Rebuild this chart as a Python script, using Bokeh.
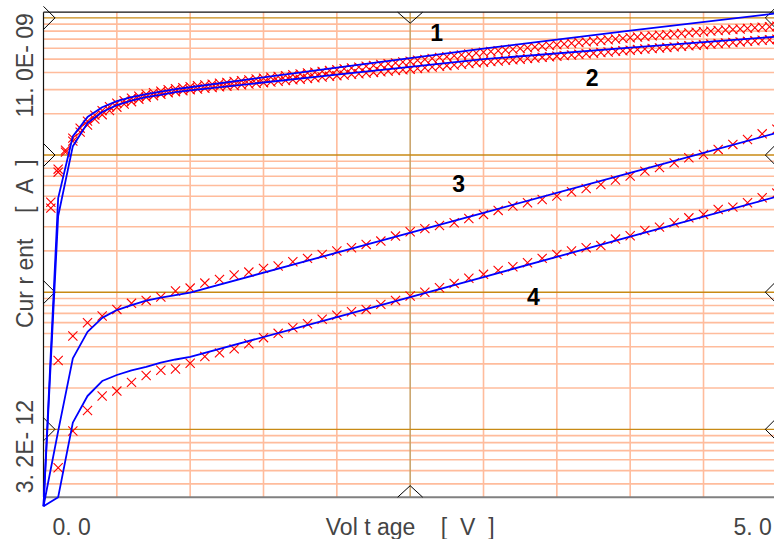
import numpy as np
from bokeh.plotting import figure
from bokeh.models import Range1d, Label, ColumnDataSource
from bokeh.core.properties import value
from bokeh.embed import file_html
from bokeh.resources import INLINE

# ---------------- data ----------------
# model (blue line) vertices
V_FIT = [0.0, 0.1, 0.2, 0.3, 0.4, 0.5, 0.6, 0.7, 0.8, 0.9, 1.0, 2.0, 3.0, 4.0, 5.0]
FIT_1_nA = [0.00275, 0.485, 1.37, 1.89, 2.23, 2.47, 2.64, 2.78, 2.90, 3.02, 3.12, 4.34, 5.96, 8.07, 10.8]
FIT_2_nA = [0.00275, 0.359, 1.16, 1.71, 2.06, 2.31, 2.49, 2.64, 2.75, 2.87, 2.96, 3.86, 5.00, 6.07, 7.30]
FIT_3_pA = [2.75, 9.7, 32.9, 51.4, 65.0, 74.1, 80.5, 86.9, 91.4, 95.3, 99.1, 194, 379, 742, 1450]
FIT_4_pA = [2.75, 3.2, 11.2, 17.5, 22.5, 24.9, 26.9, 28.5, 30.7, 32.3, 33.7, 65.9, 129, 254, 498]

# measured points (red crosses), curves 1 and 2 (0.05 V steps)
V_MEAS_12 = [0.05, 0.10, 0.15, 0.20, 0.25, 0.30, 0.35, 0.40, 0.45, 0.50,
             0.55, 0.60, 0.65, 0.70, 0.75, 0.80, 0.85, 0.90, 0.95, 1.00,
             1.05, 1.10, 1.15, 1.20, 1.25, 1.30, 1.35, 1.40, 1.45, 1.50,
             1.55, 1.60, 1.65, 1.70, 1.75, 1.80, 1.85, 1.90, 1.95, 2.00,
             2.05, 2.10, 2.15, 2.20, 2.25, 2.30, 2.35, 2.40, 2.45, 2.50,
             2.55, 2.60, 2.65, 2.70, 2.75, 2.80, 2.85, 2.90, 2.95, 3.00,
             3.05, 3.10, 3.15, 3.20, 3.25, 3.30, 3.35, 3.40, 3.45, 3.50,
             3.55, 3.60, 3.65, 3.70, 3.75, 3.80, 3.85, 3.90, 3.95, 4.00,
             4.05, 4.10, 4.15, 4.20, 4.25, 4.30, 4.35, 4.40, 4.45, 4.50,
             4.55, 4.60, 4.65, 4.70, 4.75, 4.80, 4.85, 4.90, 4.95, 5.00]
MEAS_1_nA = [0.453, 0.789, 1.086, 1.328, 1.570, 1.767, 1.954, 2.107, 2.253, 2.389,
             2.492, 2.598, 2.687, 2.779, 2.849, 2.922, 2.997, 3.047, 3.099, 3.151,
             3.196, 3.242, 3.289, 3.336, 3.384, 3.433, 3.482, 3.532, 3.583, 3.634,
             3.686, 3.739, 3.793, 3.847, 3.903, 3.959, 4.016, 4.073, 4.132, 4.191,
             4.251, 4.312, 4.374, 4.437, 4.501, 4.566, 4.632, 4.698, 4.766, 4.834,
             4.908, 4.982, 5.058, 5.135, 5.213, 5.293, 5.373, 5.455, 5.538, 5.622,
             5.693, 5.765, 5.838, 5.912, 5.987, 6.063, 6.140, 6.218, 6.297, 6.377,
             6.452, 6.528, 6.606, 6.684, 6.763, 6.843, 6.924, 7.006, 7.089, 7.173,
             7.246, 7.319, 7.393, 7.468, 7.544, 7.620, 7.697, 7.775, 7.854, 7.933,
             8.007, 8.081, 8.156, 8.232, 8.308, 8.385, 8.463, 8.541, 8.620, 8.700]
MEAS_2_nA = [0.410, 0.750, 1.050, 1.263, 1.469, 1.652, 1.827, 1.970, 2.107, 2.234,
             2.350, 2.450, 2.555, 2.642, 2.710, 2.779, 2.849, 2.898, 2.947, 2.997,
             3.032, 3.068, 3.104, 3.141, 3.178, 3.216, 3.254, 3.292, 3.331, 3.371,
             3.411, 3.451, 3.492, 3.533, 3.575, 3.617, 3.660, 3.703, 3.747, 3.791,
             3.833, 3.875, 3.917, 3.960, 4.004, 4.048, 4.092, 4.137, 4.182, 4.228,
             4.278, 4.329, 4.380, 4.431, 4.484, 4.537, 4.590, 4.645, 4.700, 4.755,
             4.803, 4.852, 4.901, 4.950, 5.000, 5.051, 5.102, 5.154, 5.206, 5.259,
             5.312, 5.366, 5.420, 5.475, 5.530, 5.586, 5.643, 5.700, 5.758, 5.816,
             5.870, 5.924, 5.979, 6.035, 6.091, 6.147, 6.204, 6.262, 6.320, 6.379,
             6.438, 6.498, 6.558, 6.619, 6.680, 6.742, 6.805, 6.868, 6.932, 6.996]

# measured points, curves 3 and 4 (0.1 V steps)
V_MEAS_34 = [0.1, 0.2, 0.3, 0.4, 0.5, 0.6, 0.7, 0.8, 0.9, 1.0,
             1.1, 1.2, 1.3, 1.4, 1.5, 1.6, 1.7, 1.8, 1.9, 2.0,
             2.1, 2.2, 2.3, 2.4, 2.5, 2.6, 2.7, 2.8, 2.9, 3.0,
             3.1, 3.2, 3.3, 3.4, 3.5, 3.6, 3.7, 3.8, 3.9, 4.0,
             4.1, 4.2, 4.3, 4.4, 4.5, 4.6, 4.7, 4.8, 4.9, 5.0]
MEAS_3_pA = [31.8, 47.9, 59.8, 67.0, 74.9, 82.9, 87.1, 92.1, 101.9, 107.1,
             116.5, 124.0, 133.3, 140.1, 149.1, 155.0, 166.6, 176.4, 188.6, 199.4,
             210.7, 223.0, 235.7, 256.4, 275.5, 290.7, 306.7, 320.4, 344.9, 369.0,
             394.7, 424.2, 448.3, 474.6, 501.6, 539.2, 570.8, 610.4, 658.4, 701.7,
             763.1, 811.8, 876.7, 954.1, 1010, 1099, 1195, 1299, 1427, 1545]
MEAS_4_pA = [5.25, 9.72, 13.7, 17.5, 19.0, 22.0, 24.7, 27.0, 27.5, 30.3,
             34.0, 36.1, 38.6, 42.1, 46.6, 50.1, 55.0, 58.9, 63.4, 67.8,
             71.9, 74.9, 81.5, 87.1, 93.8, 99.8, 107.6, 115.9, 126.2, 134.9,
             144.2, 153.1, 163.7, 176.4, 188.6, 199.4, 210.7, 218.6, 243.8, 257.8,
             282.0, 298.1, 320.4, 348.3, 369.0, 401.3, 417.0, 448.3, 487.7, 527.8]

# curve number labels
CURVE_NAMES = ["1", "2", "3", "4"]
CURVE_NAME_V = [2.68, 3.74, 2.83, 3.34]
CURVE_NAME_I = [7.78e-9, 3.66e-9, 6.24e-10, 9.37e-11]

# axes
X_MIN, X_MAX = 0.0, 5.0
Y_MIN, Y_MAX = 3.2e-12, 11.0e-9
X_TICK_VALUES = [0.0, 5.0]
X_TICK_LABELS = ["0. 0", "5. 0"]
Y_TICK_VALUES = [3.2e-12, 11.0e-9]
Y_TICK_LABELS = ["3. 2E- 12", "11. 0E- 09"]
NB = "\u00a0"
X_TITLE = "Vol t age" + NB * 4 + "[" + NB * 2 + "V" + NB * 2 + "]"
Y_TITLE = "Cur r ent" + NB * 4 + "[" + NB * 2 + "A" + NB * 2 + "]"
X_MAJOR_GRID = [2.5]
X_MINOR_GRID = [0.5, 1.0, 1.5, 2.0, 3.0, 3.5, 4.0, 4.5]
Y_DECADES = [1e-11, 1e-10, 1e-9, 1e-8]

nA = 1e-9
pA = 1e-12

# ---------------- layout (pixels) ----------------
W, H = 774, 539
FRAME_L, FRAME_T, FRAME_B = 43.0, 11.7, 496.7
PX_PER_V = 146.67
PX_PER_DEC = (FRAME_B - FRAME_T) / (np.log10(Y_MAX) - np.log10(Y_MIN))

x_start = X_MIN - FRAME_L / PX_PER_V
x_end = X_MIN + (W - FRAME_L) / PX_PER_V
y_end = 10 ** (np.log10(Y_MAX) + FRAME_T / PX_PER_DEC)
y_start = 10 ** (np.log10(Y_MIN) - (H - FRAME_B) / PX_PER_DEC)


def dx(px):
    return px / PX_PER_V


def ysh(y, px):
    """shift a log-axis value by px pixels (positive = up)"""
    return y * 10 ** (px / PX_PER_DEC)


FONT = "Liberation Sans"

p = figure(width=W, height=H,
           x_range=Range1d(x_start, x_end), y_range=Range1d(y_start, y_end),
           y_axis_type="log", x_axis_location=None, y_axis_location=None,
           toolbar_location=None, output_backend="svg",
           min_border=0, min_border_left=0, min_border_right=0, min_border_top=0, min_border_bottom=0,
           background_fill_color="white", border_fill_color="white",
           outline_line_color=None)
p.grid.visible = False

# ---------------- grid (drawn from tick arrays) ----------------
y_minor = [k * d for d in [1e-12] + Y_DECADES for k in range(2, 10)]
y_minor = [v for v in y_minor if Y_MIN < v < Y_MAX]
MINOR_C = "#FFBC9C"
p.segment(x0=X_MINOR_GRID, y0=[Y_MIN] * len(X_MINOR_GRID), x1=X_MINOR_GRID, y1=[Y_MAX] * len(X_MINOR_GRID),
          line_color=MINOR_C, line_width=1.6)
p.segment(x0=[X_MIN] * len(y_minor), y0=y_minor, x1=[X_MAX] * len(y_minor), y1=y_minor,
          line_color=MINOR_C, line_width=1.6)
p.segment(x0=X_MAJOR_GRID, y0=[Y_MIN], x1=X_MAJOR_GRID, y1=[Y_MAX], line_color="#C8A064", line_width=1.5)
p.segment(x0=[X_MIN] * len(Y_DECADES), y0=Y_DECADES, x1=[X_MAX] * len(Y_DECADES), y1=Y_DECADES,
          line_color="#C88A14", line_width=1.4)

# frame
p.segment(x0=[X_MIN, X_MIN], y0=[Y_MIN, Y_MAX], x1=[X_MIN, X_MAX], y1=[Y_MAX, Y_MAX],
          line_color="#111111", line_width=1.2)
p.segment(x0=[X_MIN], y0=[Y_MIN], x1=[X_MAX], y1=[Y_MIN], line_color="#808080", line_width=2)

# chevron tick marks on the frame edges
ch_xs, ch_ys = [], []
for yd in Y_DECADES:
    ch_xs.append([X_MIN, X_MIN + dx(11.5), X_MIN])
    ch_ys.append([ysh(yd, 11.5), yd, ysh(yd, -11.5)])
    ch_xs.append([X_MAX, X_MAX - dx(11.5), X_MAX])
    ch_ys.append([ysh(yd, 11.5), yd, ysh(yd, -11.5)])
for xm in X_MAJOR_GRID:
    ch_xs.append([xm - dx(12.5), xm, xm + dx(12.5)])
    ch_ys.append([Y_MAX, ysh(Y_MAX, -11), Y_MAX])
    ch_xs.append([xm - dx(12.5), xm, xm + dx(12.5)])
    ch_ys.append([Y_MIN, ysh(Y_MIN, 11.5), Y_MIN])
p.multi_line(ch_xs, ch_ys, line_color="black", line_width=1)

# measured points
p.scatter(V_MEAS_12, [v * nA for v in MEAS_1_nA], marker="x", size=13, line_color="#FF0000", line_width=1.1)
p.scatter(V_MEAS_12, [v * nA for v in MEAS_2_nA], marker="x", size=13, line_color="#FF0000", line_width=1.1)
p.scatter(V_MEAS_34, [v * pA for v in MEAS_3_pA], marker="x", size=13, line_color="#FF0000", line_width=1.1)
p.scatter(V_MEAS_34, [v * pA for v in MEAS_4_pA], marker="x", size=13, line_color="#FF0000", line_width=1.1)

# model lines
for fit, unit in ((FIT_1_nA, nA), (FIT_2_nA, nA), (FIT_3_pA, pA), (FIT_4_pA, pA)):
    p.line(V_FIT, [v * unit for v in fit], line_color="#0000FF", line_width=1.8)

# curve numbers
src = ColumnDataSource(dict(x=CURVE_NAME_V, y=CURVE_NAME_I, t=CURVE_NAMES))
p.text(x="x", y="y", text="t", source=src, text_font=value(FONT), text_font_style="bold",
       text_font_size=value("23px"), text_align="center", text_baseline="middle", text_color="black")

# tick labels and titles
p.add_layout(Label(x=X_TICK_VALUES[0], y=Y_MIN, x_offset=9, y_offset=-30, text=X_TICK_LABELS[0],
                   text_font=FONT, text_font_size="23px", text_align="left", text_baseline="alphabetic"))
p.add_layout(Label(x=X_TICK_VALUES[1], y=Y_MIN, x_offset=-5, y_offset=-30, text=X_TICK_LABELS[1],
                   text_font=FONT, text_font_size="23px", text_align="right", text_baseline="alphabetic"))
p.add_layout(Label(x=(X_MIN + X_MAX) / 2, y=Y_MIN, y_offset=-30, text=X_TITLE,
                   text_font=FONT, text_font_size="23px", text_align="center", text_baseline="alphabetic"))

y_label_x = X_MIN - dx(19)
p.add_layout(Label(x=y_label_x, y=ysh(Y_TICK_VALUES[1], -1), text=Y_TICK_LABELS[1],
                   angle=np.pi / 2, text_font=FONT, text_font_size="23px",
                   text_align="right", text_baseline="alphabetic"))
p.add_layout(Label(x=y_label_x, y=ysh(Y_TICK_VALUES[0], 4), text=Y_TICK_LABELS[0],
                   angle=np.pi / 2, text_font=FONT, text_font_size="23px",
                   text_align="left", text_baseline="alphabetic"))
p.add_layout(Label(x=y_label_x, y=ysh(float(np.sqrt(Y_MIN * Y_MAX)), 11), text=Y_TITLE,
                   angle=np.pi / 2, text_font=FONT, text_font_size="23px",
                   text_align="center", text_baseline="alphabetic"))

open("out.html", "w").write(file_html(p, INLINE))
